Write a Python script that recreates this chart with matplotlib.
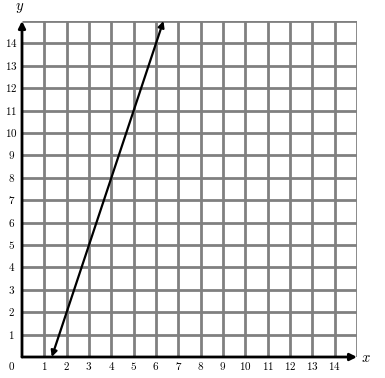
import matplotlib
matplotlib.use("Agg")
import matplotlib.pyplot as plt

plt.rcParams['mathtext.fontset'] = 'cm'

x_ticks = list(range(1, 15))
y_ticks = list(range(1, 15))
line_x = [4 / 3, 19 / 3]
line_y = [0, 15]

fig = plt.figure(figsize=(3.85, 3.78), dpi=100)
ax = fig.add_axes([22 / 385, 21 / 378, 335 / 385, 336 / 378])
ax.set_xlim(0, 15)
ax.set_ylim(0, 15)
ax.axis('off')

# grid
for v in range(1, 16):
    ax.plot([v, v], [0, 15], color='#808080', lw=2, zorder=1, solid_capstyle='butt')
    ax.plot([0, 15], [v, v], color='#808080', lw=2, zorder=1, solid_capstyle='butt')

# axes with arrows
arrow = dict(arrowstyle='-|>', lw=2, color='black', mutation_scale=10, shrinkA=0, shrinkB=0)
ax.annotate('', xy=(15, 0), xytext=(0, 0), arrowprops=arrow, annotation_clip=False, zorder=3)
ax.annotate('', xy=(0, 15), xytext=(0, 0), arrowprops=arrow, annotation_clip=False, zorder=3)

# tick labels
for t in x_ticks:
    ax.text(t, -0.42, f'${t}$', ha='center', va='center', fontsize=8)
for t in y_ticks:
    ax.text(-0.47, t, f'${t}$', ha='center', va='center', fontsize=8)
ax.text(-0.47, -0.42, '$0$', ha='center', va='center', fontsize=8)
ax.text(15.4, 0, '$x$', ha='center', va='center', fontsize=10.5)
ax.text(-0.1, 15.6, '$y$', ha='center', va='center', fontsize=10.5)

# line with arrows at both ends
ax.annotate('', xy=(line_x[1], line_y[1]), xytext=(line_x[0], line_y[0]),
            arrowprops=dict(arrowstyle='<|-|>', lw=1.6, color='black',
                            mutation_scale=9, shrinkA=0, shrinkB=0),
            annotation_clip=False, zorder=4)

fig.savefig('out.png', dpi=100)
